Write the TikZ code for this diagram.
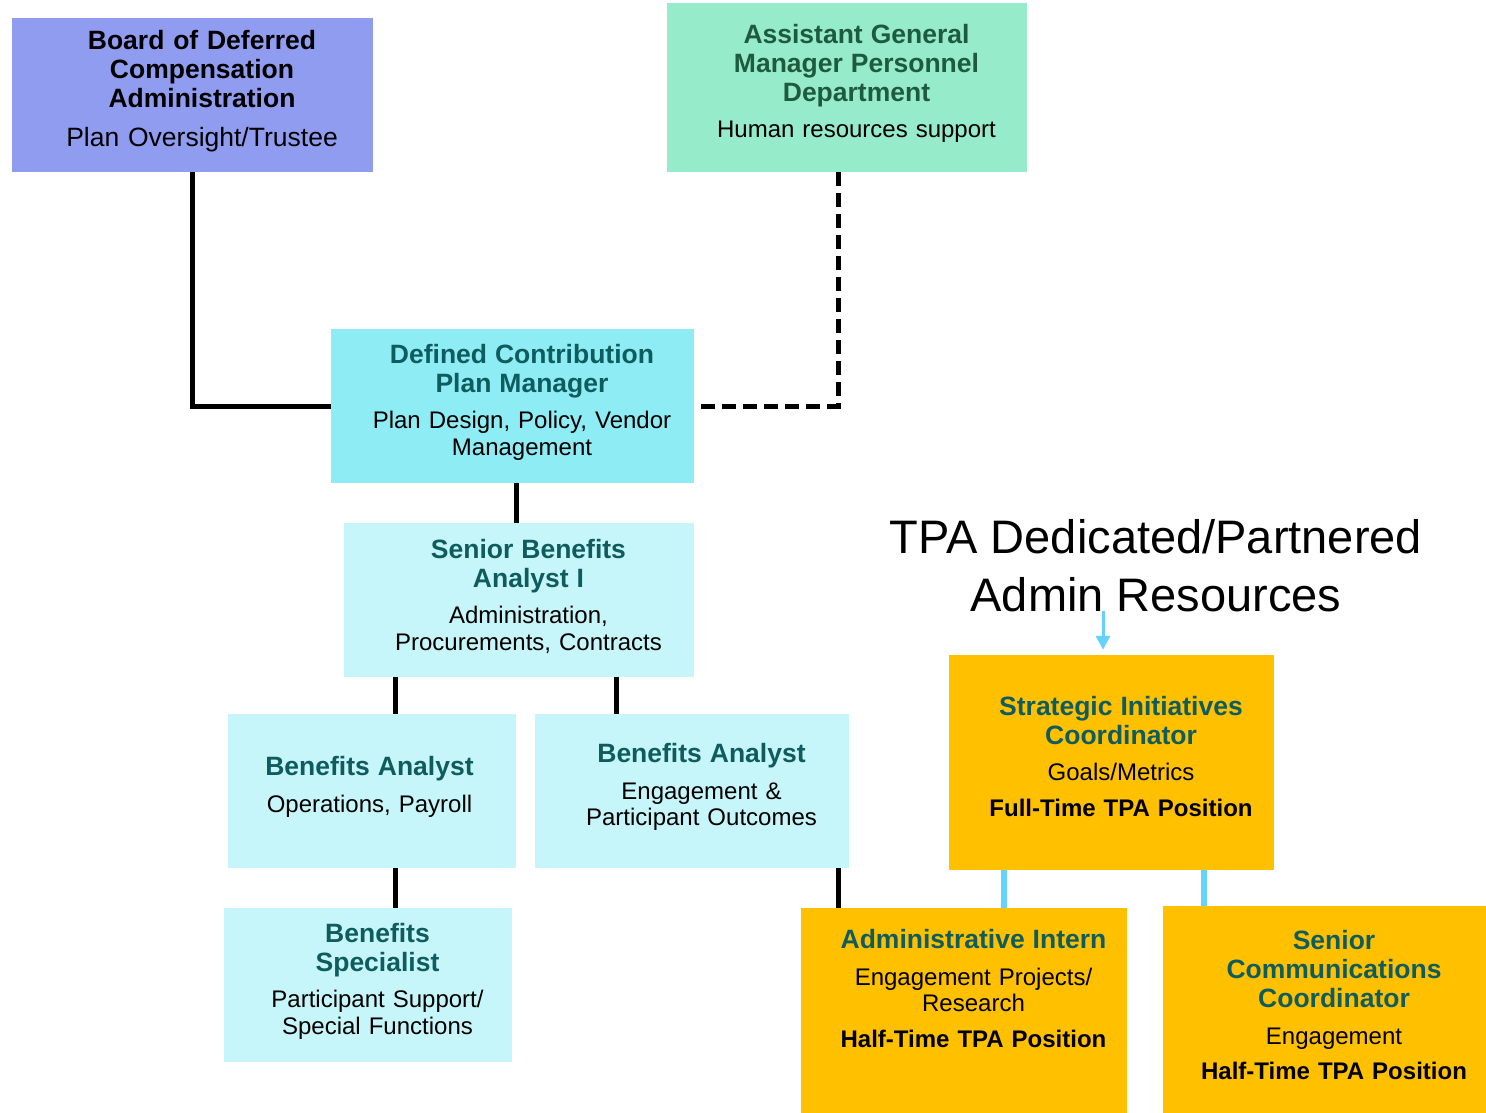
\documentclass[tikz,border=0pt]{standalone}
\usepackage{fontspec}
\setmainfont{Liberation Sans}
\usetikzlibrary{arrows.meta,positioning}
\definecolor{boardblue}{HTML}{8F9CF0}
\definecolor{hrmint}{HTML}{96EBCA}
\definecolor{mgrcyan}{HTML}{8DECF4}
\definecolor{staffcyan}{HTML}{C6F6F9}
\definecolor{tpaamber}{HTML}{FFC000}
\definecolor{titleteal}{HTML}{0F5C5E}
\definecolor{hrgreen}{HTML}{1E5B3E}
\definecolor{tpablue}{HTML}{66D3FF}
% bold role name above the duties
\newcommand{\roletitle}[2][titleteal]{{\color{#1}\fontsize{26.5}{29}\selectfont\bfseries #2\par}\vspace{10pt}}
% text sits a little right of and above the box centre
\tikzset{text shift/.initial=19pt, text lift/.initial=8pt}
\newcommand{\textnudge}{\leftskip=\pgfkeysvalueof{/tikz/text shift} plus 1fill\relax
  \rightskip=0pt plus 1fill\relax\parfillskip=0pt\relax}
\newcommand{\textraise}{\par\vspace{\pgfkeysvalueof{/tikz/text lift}}}

\begin{document}
\begin{tikzpicture}[x=1pt,y=-1pt,
    block_role/.style ={rectangle, draw=none, align=center, inner xsep=8pt,
      inner ysep=0pt, font=\fontsize{24}{26.5}\selectfont,
      execute at begin node=\textnudge, execute at end node=\textraise},
    block_board/.style ={block_role, fill=boardblue, text width=345pt, minimum height=154pt,
      font=\fontsize{26.5}{29}\selectfont},
    block_hr/.style ={block_role, fill=hrmint, text width=344pt, minimum height=169pt},
    block_mgr/.style ={block_role, fill=mgrcyan, text width=347pt, minimum height=154pt},
    block_staff/.style ={block_role, fill=staffcyan, minimum height=154pt},
    block_tpa/.style ={block_role, fill=tpaamber},
    block_clear/.style ={rectangle, draw=none, align=center,
      font=\fontsize{47}{58}\selectfont},
    paths/.style ={draw, black, line width=5pt},
    paths_dashed/.style ={paths, dash pattern=on 14pt off 7pt},
    paths_tpa/.style ={draw, tpablue, line width=6pt},
    paths_arrow/.style ={draw, tpablue, line width=3pt,
      arrows={-Triangle[width=14pt, length=14pt]}}]
  \useasboundingbox (0,0) rectangle (1486,1113);
  % top row
  \node[block_board] (board) at (192.5,95)
    {\roletitle[black]{Board of Deferred\\Compensation\\Administration}Plan Oversight/Trustee};
  \node[block_hr] (agm) at (847,87.5)
    {\roletitle[hrgreen]{Assistant General\\Manager Personnel\\Department}Human resources support};
  % plan staff
  \node[block_mgr] (dcpm) at (512.5,406)
    {\roletitle{Defined Contribution\\Plan Manager}Plan Design, Policy, Vendor\\Management};
  \node[block_staff, text width=334pt] (sba) at (519,600)
    {\roletitle{Senior Benefits\\Analyst I}Administration,\\Procurements, Contracts};
  \node[block_staff, text width=272pt, text shift=-5pt] (baops) at (372,791)
    {\roletitle{Benefits Analyst}Operations, Payroll};
  \node[block_staff, text width=298pt] (baeng) at (692,791)
    {\roletitle{Benefits Analyst}Engagement \&\\Participant Outcomes};
  \node[block_staff, text width=272pt] (bspec) at (368,985)
    {\roletitle{Benefits\\Specialist}Participant Support/\\Special Functions};
  % TPA resources
  \node[block_clear] (tpa) at (1156,566) {TPA Dedicated/Partnered\\Admin Resources};
  \node[block_tpa, text width=309pt, minimum height=215pt, text lift=12pt] (sic) at (1111.5,762.5)
    {\roletitle{Strategic Initiatives\\Coordinator}Goals/Metrics\\[9pt]\textbf{Full-Time TPA Position}};
  \node[block_tpa, text width=310pt, minimum height=205pt, text lift=44pt] (intern) at (964,1010.5)
    {\roletitle{Administrative Intern}Engagement Projects/\\Research\\[9pt]\textbf{Half-Time TPA Position}};
  \node[block_tpa, text width=307pt, minimum height=207pt] (scc) at (1324.5,1009.5)
    {\roletitle{Senior\\Communications\\Coordinator}Engagement\\[9pt]\textbf{Half-Time TPA Position}};
  % connecting nodes with paths
  \path[paths] (board.south) |- (dcpm.west);
  \path[paths_dashed] ([xshift=-9pt]agm.south) |- ([xshift=4pt]dcpm.east);
  \path[paths] ([xshift=3.5pt]dcpm.south) -- ([xshift=3.5pt]dcpm.south |- sba.north);
  \path[paths] ([xshift=23pt]baops.north |- sba.south) -- ([xshift=23pt]baops.north);
  \path[paths] ([xshift=-76pt]baeng.north |- sba.south) -- ([xshift=-76pt]baeng.north);
  \path[paths] ([xshift=23pt]baops.south) -- ([xshift=23pt]baops.south |- bspec.north);
  \path[paths] ([xshift=146pt]baeng.south) -- ([xshift=146pt]baeng.south |- intern.north);
  \path[paths_tpa] ([xshift=40pt]intern.north |- sic.south) -- ([xshift=40pt]intern.north);
  \path[paths_tpa] ([xshift=92.5pt]sic.south) -- ([xshift=92.5pt]sic.south |- scc.north);
  \path[paths_arrow] ([yshift=5pt]tpa.south -| 1103,0) -- ([yshift=5pt]sic.north -| 1103,0);
\end{tikzpicture}
\end{document}
